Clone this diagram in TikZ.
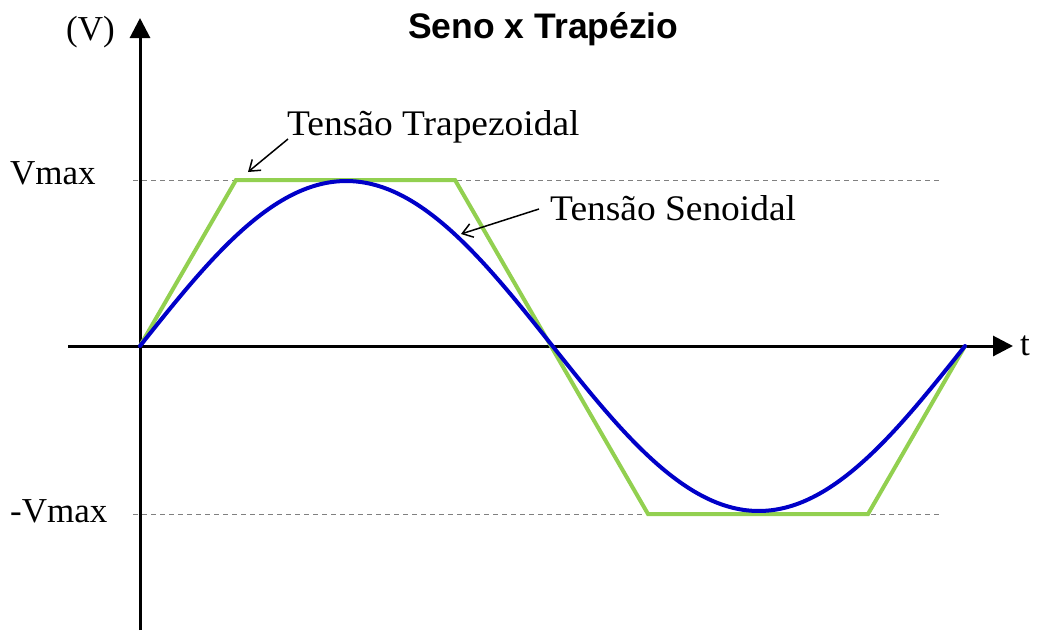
\documentclass[tikz,border=0pt]{standalone}
\usepackage{fontspec}
\setmainfont{Liberation Serif}
\newfontfamily\widefont[FakeStretch=1.04]{Liberation Serif}
\newfontfamily\titlefont{Liberation Sans}
\usetikzlibrary{arrows.meta}
\definecolor{trapgreen}{RGB}{146,208,80}
\definecolor{sineblue}{RGB}{0,0,200}
\tikzset{
  axisline/.style={line width=3pt,-{Triangle[length=20pt,width=20pt]}},
  refline/.style={gray,line width=1pt,dash pattern=on 5pt off 4pt},
  label/.style={inner sep=0pt,anchor=base west,font=\fontsize{35}{40}\selectfont},
  annot/.style={inner sep=0pt,anchor=base west,font=\widefont\fontsize{36}{40}\selectfont},
  pointer/.style={line width=1.5pt,-{Straight Barb[length=10pt,width=14pt]}},
}
\begin{document}
\begin{tikzpicture}[x=1pt,y=-1pt]
\useasboundingbox (0,0) rectangle (1040,630);
% reference lines
\draw[refline] (133,180) -- (942,180);
\draw[refline] (133,514) -- (942,514);
% axes
\draw[axisline] (140,630) -- (140,18);
\draw[axisline] (68,346) -- (1013,346);
% curves
\draw[trapgreen,line width=4pt,line join=miter] (140,346) -- (236,180) -- (455,180) -- (648,514) -- (868,514) -- (965,346);
\draw[sineblue,line width=4pt,line cap=round] plot[domain=0:360,samples=120,smooth] ({140+2.291667*\x},{346-165*sin(\x)});
% labels
\node[label] (v) at (66,40) {(V)};
\node[label] (vmax) at (10,184) {Vmax};
\node[label] (vmin) at (10,522) {-Vmax};
\node[label] (t) at (1020,355) {t};
\node[inner sep=0pt,anchor=base west,font=\titlefont\bfseries\fontsize{35.5}{40}\selectfont] (title) at (408,38) {Seno x Trapézio};
\node[annot] (trap) at (287,135) {Tensão Trapezoidal};
\node[annot] (sen) at (550,220) {Tensão Senoidal};
\coordinate (trapstart) at (288,139);
\coordinate (trapend) at (248,172);
\coordinate (senstart) at (539,209);
\coordinate (senend) at (461,234);
\draw[pointer] (trapstart) -- (trapend);
\draw[pointer] (senstart) -- (senend);
\end{tikzpicture}
\end{document}
